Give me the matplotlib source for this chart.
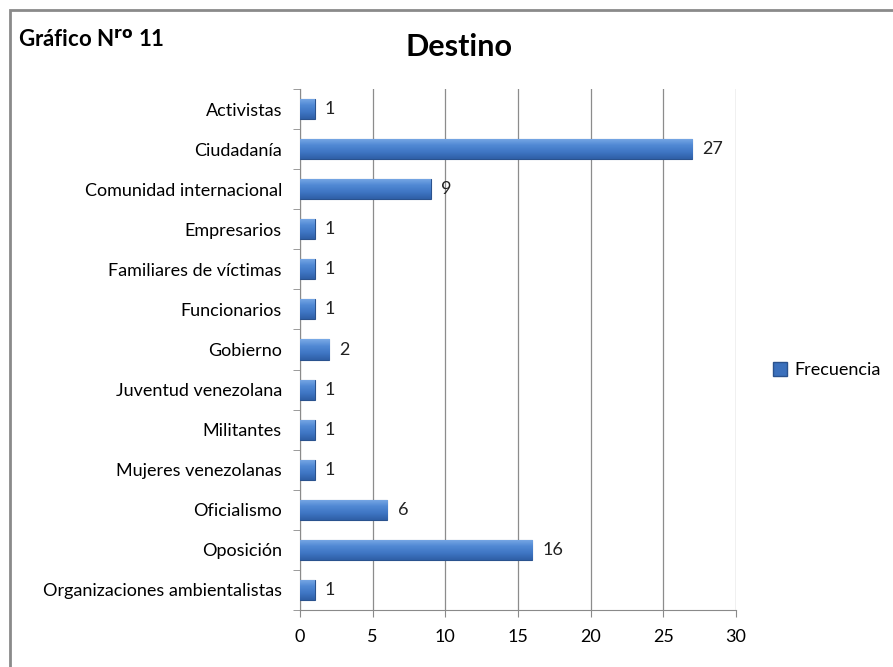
import numpy as np
import matplotlib.pyplot as plt
from matplotlib.patches import Rectangle
from matplotlib.colors import LinearSegmentedColormap

plt.rcParams['font.family'] = ['Lato', 'DejaVu Sans']

# data
categories = [
    "Activistas", "Ciudadanía", "Comunidad internacional", "Empresarios",
    "Familiares de víctimas", "Funcionarios", "Gobierno", "Juventud venezolana",
    "Militantes", "Mujeres venezolanas", "Oficialismo", "Oposición",
    "Organizaciones ambientalistas",
]
frecuencia = [1, 27, 9, 1, 1, 1, 2, 1, 1, 1, 6, 16, 1]
x_ticks = [0, 5, 10, 15, 20, 25, 30]

label_size = 13

fig = plt.figure(figsize=(8.93, 6.67), dpi=100)
ax = fig.add_axes([0.336, 0.0855, 0.488, 0.781])

# outer frame of the chart
fig.patches.append(Rectangle((9.5 / 893, -0.05), 1.1, 1 - 9.5 / 667 + 0.05,
                             transform=fig.transFigure, fill=False,
                             edgecolor="#8a8a8a", linewidth=2))

pos = list(range(len(categories)))
bars = ax.barh(pos, frecuencia, height=0.5, color="#3B70BC",
               edgecolor="#2a528e", linewidth=0.8, zorder=3)

# vertical gradient inside every bar (light top, dark bottom)
bar_cmap = LinearSegmentedColormap.from_list(
    "bevel", ["#7aaae6", "#5189d4", "#3f76c4", "#2f5fa6"])
grad = np.linspace(0, 1, 64).reshape(-1, 1)
for b in bars:
    x0, y0 = b.get_x(), b.get_y()
    im = ax.imshow(grad, cmap=bar_cmap, aspect="auto", zorder=3.5,
                   extent=(x0, x0 + b.get_width(), y0 + b.get_height(), y0),
                   interpolation="bilinear")
    im.set_clip_path(b)

for p, v in zip(pos, frecuencia):
    ax.annotate(str(v), (v, p), xytext=(7.5, 0), textcoords="offset points",
                ha="left", va="center", fontsize=label_size, color="#222222")

ax.set_xlim(0, 30)
ax.set_ylim(len(categories) - 0.5, -0.5)
ax.set_xticks(x_ticks)
ax.set_yticks(pos)
ax.set_yticklabels(categories, fontsize=label_size)
ax.set_yticks([p + 0.5 for p in range(-1, len(categories))], minor=True)
ax.tick_params(axis="y", which="major", length=0, pad=13)
ax.tick_params(axis="y", which="minor", length=5, color="#8a8a8a", direction="out")
ax.tick_params(axis="x", length=5, color="#8a8a8a", labelsize=label_size, pad=9)

ax.grid(axis="x", color="#8c8c8c", linewidth=0.9, zorder=0)
ax.set_axisbelow(True)
for side in ("top", "right"):
    ax.spines[side].set_visible(False)
for side in ("left", "bottom"):
    ax.spines[side].set_color("#8a8a8a")

fig.text(0.514, 0.929, "Destino", ha="center", va="center",
         fontsize=22, fontweight="bold")
fig.text(0.02, 0.94, r"Gráfico N$^{\mathbf{ro}}$ 11", ha="left", va="center",
         fontsize=16, fontweight="bold")

handle = Rectangle((0, 0), 1, 1, facecolor="#3B70BC", edgecolor="#2a528e")
fig.legend([handle], ["Frecuencia"], loc="center left",
           bbox_to_anchor=(0.866, 0.445), frameon=False, fontsize=label_size,
           borderpad=0, borderaxespad=0,
           handlelength=0.75, handleheight=0.75, handletextpad=0.4)

fig.savefig("out.png", dpi=100, facecolor="white")
